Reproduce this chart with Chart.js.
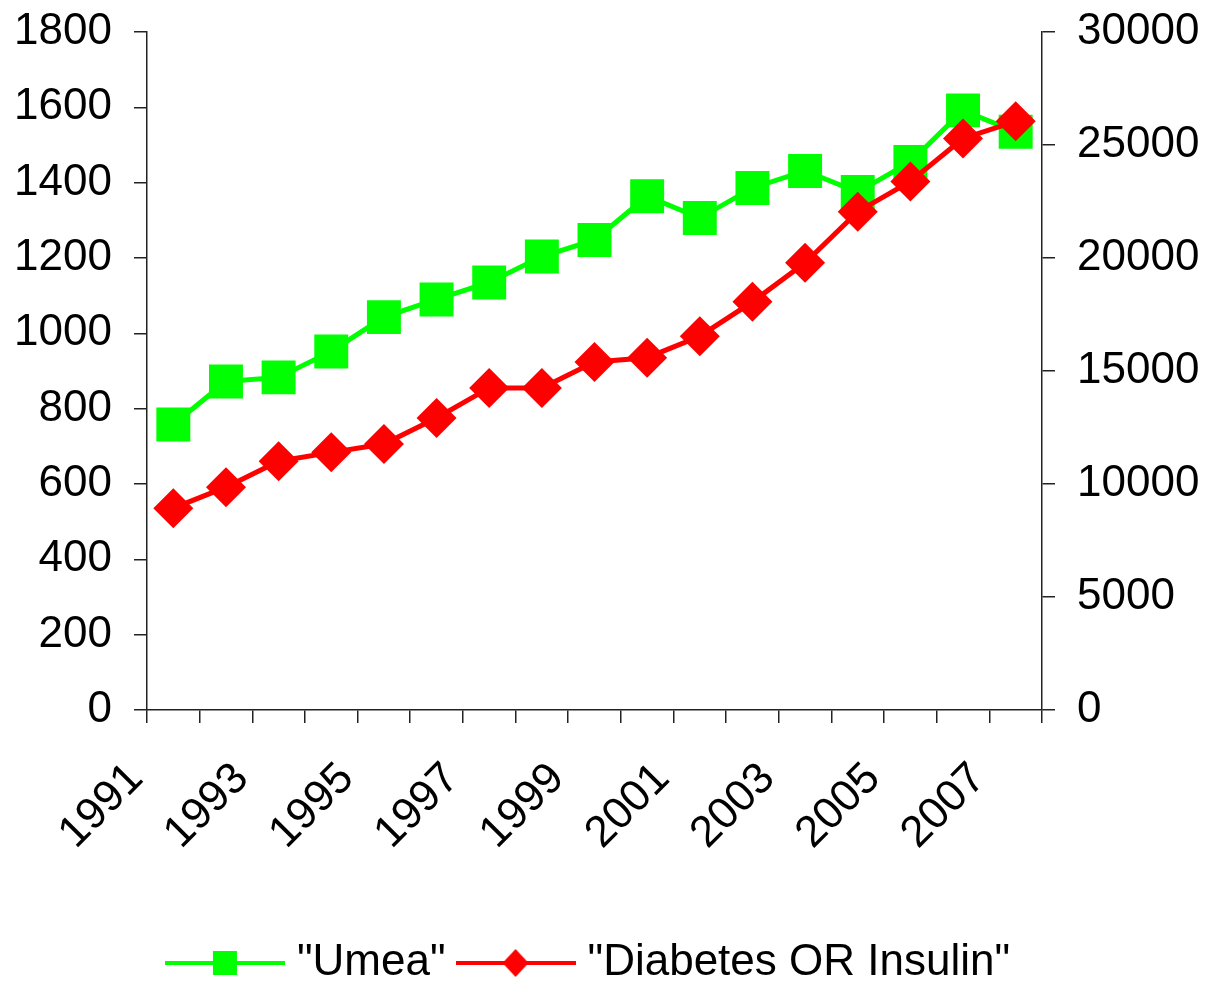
<!DOCTYPE html>
<html>
<head>
  <title>"Umea" / "Diabetes OR Insulin"</title>
  <script src="https://cdn.jsdelivr.net/npm/chart.js"></script>
  <style>
    body { margin: 0; background: #fff; }
    #wrap { width: 1209px; height: 985px; }
  </style>
</head>
<body>
  <div id="wrap"><canvas id="lineChart"></canvas></div>

  <script>
    const years = ['1991', '1992', '1993', '1994', '1995', '1996', '1997', '1998', '1999',
                   '2000', '2001', '2002', '2003', '2004', '2005', '2006', '2007'];
    const umea = [758, 872, 883, 952, 1043, 1090, 1135, 1204, 1248,
                  1364, 1306, 1386, 1431, 1375, 1455, 1592, 1535];
    const diabetes = [8930, 9860, 11010, 11400, 11770, 12920, 14250, 14250, 15400,
                      15590, 16540, 18060, 19790, 22050, 23390, 25290, 26050];
    const leftMax = 1800, leftStep = 200;
    const rightMax = 30000, rightStep = 5000;

    const family = "'Liberation Sans', Arial, sans-serif";
    const font = { family: family, size: 44 };
    // small line height on the value axes so the top label does not push the plot down
    const yFont = { family: family, size: 44, lineHeight: 0.4 };
    const axisColor = '#222';

    // legend icon: line with the marker in the middle, like the original
    function legendIcon(color, diamond) {
      const c = document.createElement('canvas');
      c.width = 120; c.height = 32;
      const g = c.getContext('2d');
      g.strokeStyle = color; g.lineWidth = 4;
      g.beginPath(); g.moveTo(0, 16); g.lineTo(120, 16); g.stroke();
      g.fillStyle = color;
      g.beginPath();
      if (diamond) {
        g.moveTo(60, 2); g.lineTo(73, 16); g.lineTo(60, 30); g.lineTo(47, 16);
      } else {
        g.rect(48, 4, 24, 24);
      }
      g.fill();
      return c;
    }
    const icons = [legendIcon('#00ff00', false), legendIcon('#ff0000', true)];

    const legendPad = 20;
    const plain = v => String(v);

    // the original legend sits a little left of centre
    const shiftLegend = {
      id: 'shiftLegend',
      afterLayout(chart) {
        if (chart.legend) { chart.legend.left -= 12; chart.legend.right -= 12; }
      }
    };

    new Chart(document.getElementById('lineChart'), {
      type: 'line',
      plugins: [shiftLegend],
      data: {
        labels: years,
        datasets: [{
          label: '"Umea"',
          data: umea,
          yAxisID: 'y',
          order: 2,
          borderColor: '#00ff00',
          backgroundColor: '#00ff00',
          borderWidth: 5,
          pointStyle: 'rect',
          pointRadius: 24,
          pointBorderWidth: 0,
          tension: 0
        }, {
          label: '"Diabetes OR Insulin"',
          data: diabetes,
          yAxisID: 'y1',
          order: 1,
          borderColor: '#ff0000',
          backgroundColor: '#ff0000',
          borderWidth: 5,
          pointStyle: 'rectRot',
          pointRadius: 20,
          pointBorderWidth: 0,
          tension: 0
        }]
      },
      options: {
        responsive: true,
        maintainAspectRatio: false,
        animation: false,
        layout: { padding: { top: 32, left: 0, right: 0, bottom: -10 } },
        plugins: {
          tooltip: { enabled: false },
          legend: {
            position: 'bottom',
            labels: {
              font: font,
              color: '#000',
              usePointStyle: true,
              pointStyleWidth: 100,
              padding: legendPad,
              generateLabels: chart => Chart.defaults.plugins.legend.labels.generateLabels(chart)
                .sort((a, b) => a.datasetIndex - b.datasetIndex)
                .map(l => Object.assign(l, { pointStyle: icons[l.datasetIndex] }))
            }
          }
        },
        scales: {
          x: {
            offset: true,
            grid: { offset: true, drawOnChartArea: false, drawTicks: true, tickLength: 13, color: axisColor, lineWidth: 1.5 },
            border: { color: axisColor, width: 1.5 },
            ticks: {
              font: font,
              color: '#000',
              autoSkip: false,
              maxRotation: 45,
              minRotation: 45,
              padding: 30,
              labelOffset: -37,
              callback: function (v, i) { return i % 2 === 0 ? this.getLabelForValue(v) : ''; }
            },
            afterFit: s => { s.height = 211; }
          },
          y: {
            position: 'left',
            min: 0, max: leftMax,
            grid: { drawOnChartArea: false, tickLength: 13, color: axisColor, lineWidth: 1.5 },
            border: { color: axisColor, width: 1.5 },
            ticks: { font: yFont, color: '#000', stepSize: leftStep, padding: 22, callback: plain },
            afterFit: s => { s.width = 147; }
          },
          y1: {
            position: 'right',
            min: 0, max: rightMax,
            grid: { drawOnChartArea: false, tickLength: 13, color: axisColor, lineWidth: 1.5 },
            border: { color: axisColor, width: 1.5 },
            ticks: { font: yFont, color: '#000', stepSize: rightStep, padding: 22, callback: plain },
            afterFit: s => { s.width = 167; }
          }
        }
      }
    });
  </script>
</body>
</html>
